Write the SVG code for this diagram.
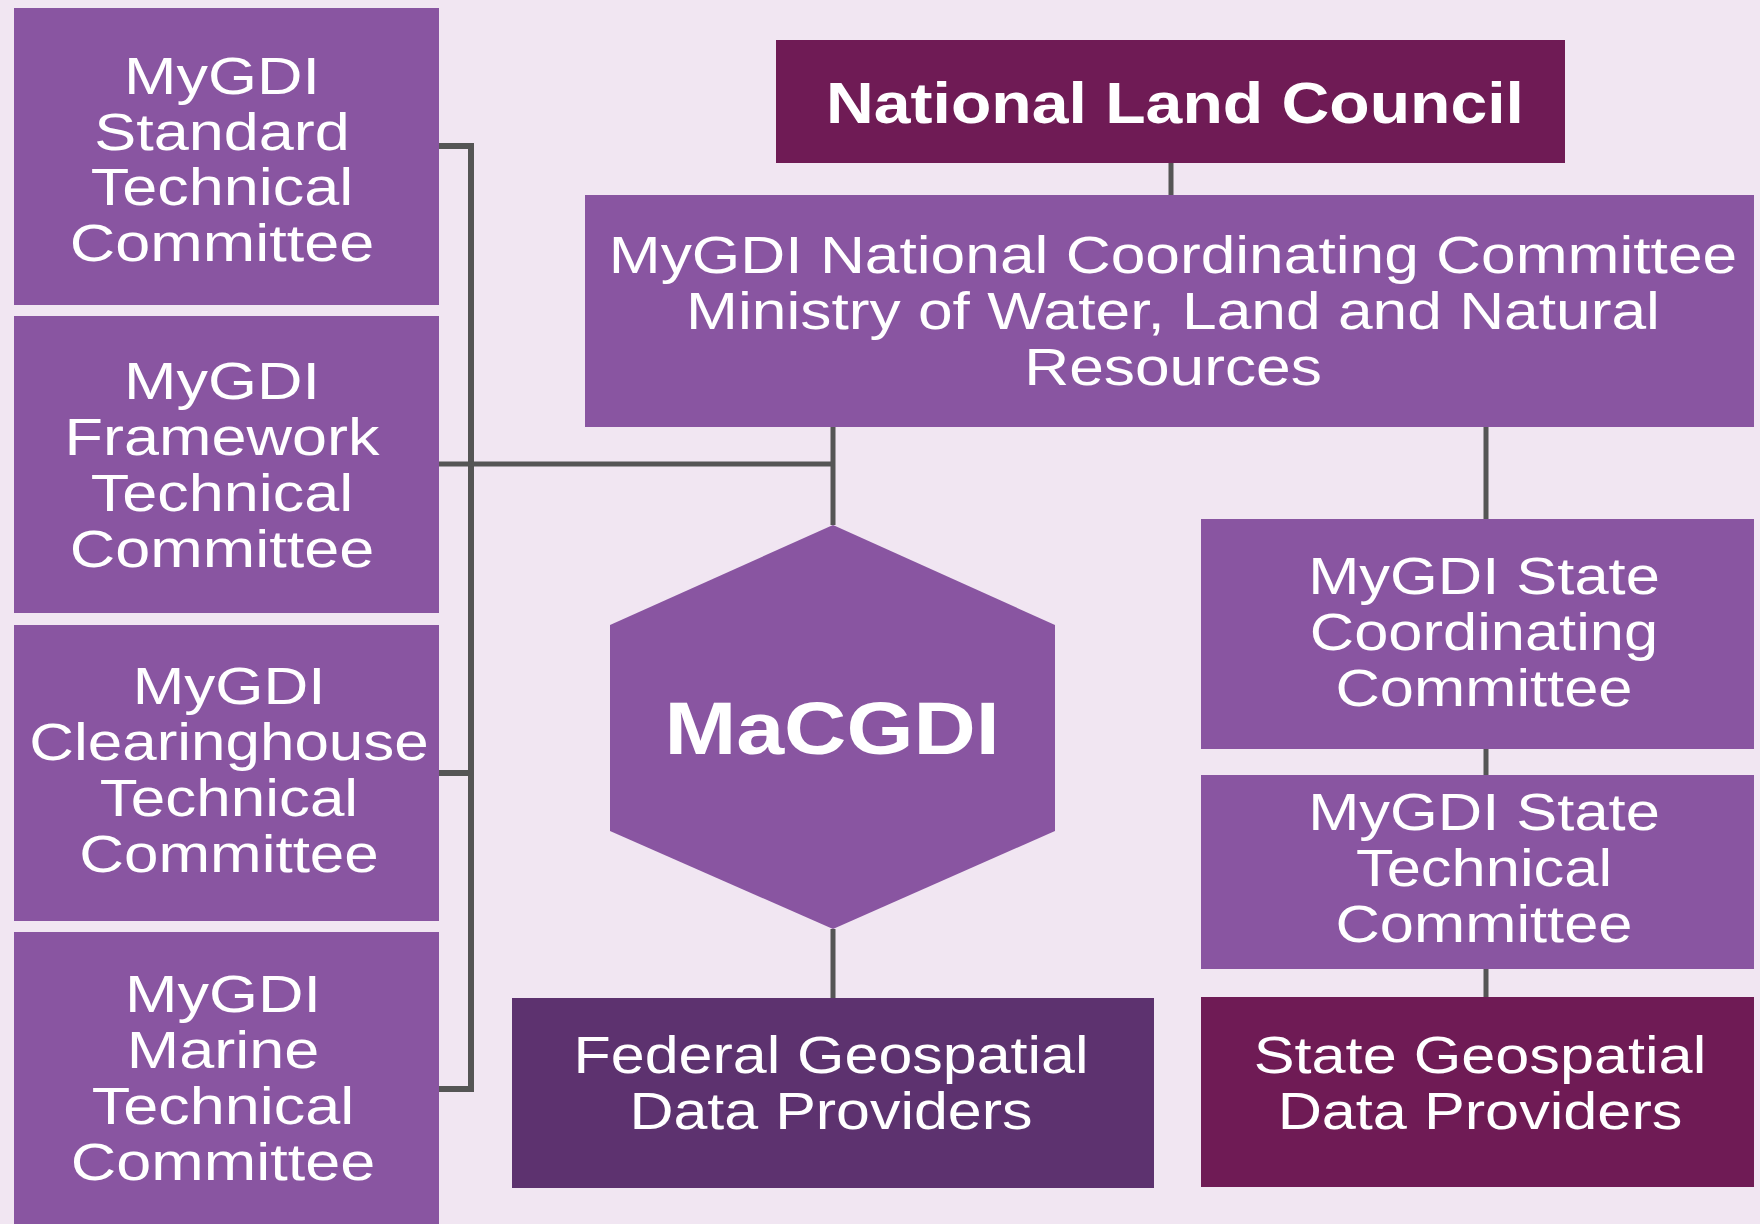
<svg xmlns="http://www.w3.org/2000/svg" width="1760" height="1224" viewBox="0 0 1760 1224">
<style>
.bg{fill:#F1E6F2}
.p{fill:#8955A1}
.m{fill:#6F1B55}
.f{fill:#5D326F}
.t{font-family:"Liberation Sans",Arial,Helvetica,sans-serif;font-size:51px;fill:#FFFFFF;text-anchor:middle}
.b{font-family:"Liberation Sans",Arial,Helvetica,sans-serif;font-weight:bold;fill:#FFFFFF;text-anchor:middle}
.c{stroke:#555555;stroke-width:5;fill:none}
.k{stroke:#555555;stroke-width:6;fill:none}
</style>
<rect class="bg" x="0" y="0" width="1760" height="1224"/>
<g id="connectors">
<path class="k" d="M439 146 H471 V1089 H439 M439 773 H471"/>
<path class="c" d="M439 464 H833"/>
<path class="c" d="M1171 163 V195"/>
<path class="c" d="M833 427 V525"/>
<path class="c" d="M833 929 V998"/>
<path class="c" d="M1486 427 V519"/>
<path class="c" d="M1486 749 V775"/>
<path class="c" d="M1486 969 V997"/>
</g>
<g id="standard">
<rect class="p" x="14" y="8" width="425" height="297"/>
<text class="t" transform="translate(222,0) scale(1.235,1)"><tspan x="0" y="94">MyGDI</tspan><tspan x="0" y="150">Standard</tspan><tspan x="0" y="205">Technical</tspan><tspan x="0" y="261">Committee</tspan></text>
</g>
<g id="framework">
<rect class="p" x="14" y="316" width="425" height="297"/>
<text class="t" transform="translate(222,0) scale(1.235,1)"><tspan x="0" y="399">MyGDI</tspan><tspan x="0" y="455">Framework</tspan><tspan x="0" y="511">Technical</tspan><tspan x="0" y="567">Committee</tspan></text>
</g>
<g id="clearinghouse">
<rect class="p" x="14" y="625" width="425" height="296"/>
<text class="t" transform="translate(229,0) scale(1.215,1)"><tspan x="0" y="704">MyGDI</tspan><tspan x="0" y="760">Clearinghouse</tspan><tspan x="0" y="816">Technical</tspan><tspan x="0" y="872">Committee</tspan></text>
</g>
<g id="marine">
<rect class="p" x="14" y="932" width="425" height="292"/>
<text class="t" transform="translate(223,0) scale(1.235,1)"><tspan x="0" y="1012">MyGDI</tspan><tspan x="0" y="1068">Marine</tspan><tspan x="0" y="1124">Technical</tspan><tspan x="0" y="1180">Committee</tspan></text>
</g>
<g id="nlc">
<rect class="m" x="776" y="40" width="789" height="123"/>
<text class="b" font-size="58" transform="translate(1175,0) scale(1.14,1)"><tspan x="0" y="123">National Land Council</tspan></text>
</g>
<g id="ncc">
<rect class="p" x="585" y="195" width="1169" height="232"/>
<text class="t" style="font-size:52px" transform="translate(1173,0) scale(1.198,1)"><tspan x="0" y="273">MyGDI National Coordinating Committee</tspan><tspan x="0" y="329">Ministry of Water, Land and Natural</tspan><tspan x="0" y="385">Resources</tspan></text>
</g>
<g id="macgdi">
<polygon class="p" points="833,525 1055,625 1055,831 833,929 610,831 610,625"/>
<text class="b" font-size="74" transform="translate(832,0) scale(1.165,1)"><tspan x="0" y="754">MaCGDI</tspan></text>
</g>
<g id="federal">
<rect class="f" x="512" y="998" width="642" height="190"/>
<text class="t" transform="translate(831,0) scale(1.195,1)"><tspan x="0" y="1073">Federal Geospatial</tspan><tspan x="0" y="1129">Data Providers</tspan></text>
</g>
<g id="statecoord">
<rect class="p" x="1201" y="519" width="553" height="230"/>
<text class="t" transform="translate(1484,0) scale(1.205,1)"><tspan x="0" y="594">MyGDI State</tspan><tspan x="0" y="650">Coordinating</tspan><tspan x="0" y="706">Committee</tspan></text>
</g>
<g id="statetech">
<rect class="p" x="1201" y="775" width="553" height="194"/>
<text class="t" transform="translate(1484,0) scale(1.205,1)"><tspan x="0" y="830">MyGDI State</tspan><tspan x="0" y="886">Technical</tspan><tspan x="0" y="942">Committee</tspan></text>
</g>
<g id="stategeo">
<rect class="m" x="1201" y="997" width="553" height="190"/>
<text class="t" transform="translate(1480,0) scale(1.2,1)"><tspan x="0" y="1073">State Geospatial</tspan><tspan x="0" y="1129">Data Providers</tspan></text>
</g>
</svg>
